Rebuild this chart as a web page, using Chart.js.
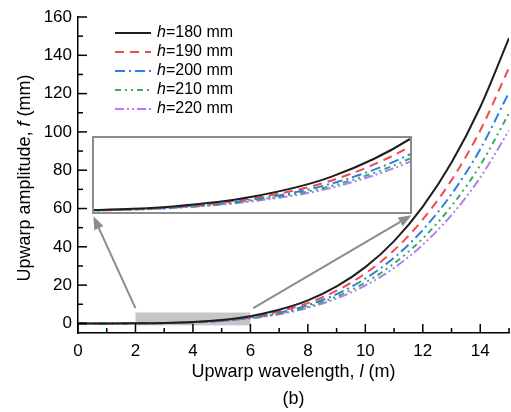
<!DOCTYPE html>
<html>
<head>
<meta charset="utf-8">
<script src="https://cdn.jsdelivr.net/npm/chart.js@4.4.1/dist/chart.umd.min.js"></script>
<style>
    body { margin: 0; background: #fff; }
    #wrap { position: relative; width: 511px; height: 412px; }
    #main { position: absolute; left: 0; top: 0; }
    #insetBox { position: absolute; box-sizing: border-box; border: 2px solid #8c8c8c; background: #fff; }
    #inset { display: block; }
</style>
</head>
<body>
<div id="wrap">
    <canvas id="main" width="511" height="412"></canvas>
    <div id="insetBox"><canvas id="inset"></canvas></div>
</div>
<script>
// ---- dades llegides de la figura ----
const xs = [0, 1, 2, 3, 4, 5, 6, 7, 8, 9, 10, 11, 12, 13, 14, 15];
const hValues = [180, 190, 200, 210, 220];

const f180 = [0, 0.003, 0.05, 0.24, 0.75, 1.8, 3.8, 7.1, 12.0, 19.3, 29.4, 43.0, 61.0, 84.0, 113.0, 149.0];
const f190 = [0, 0.003, 0.045, 0.21, 0.67, 1.6, 3.4, 6.3, 10.6, 17.1, 26.1, 38.2, 54.3, 74.8, 100.8, 133.5];
const f200 = [0, 0.002, 0.04, 0.19, 0.6, 1.44, 3.0, 5.6, 9.5, 15.3, 23.4, 34.3, 48.8, 67.5, 91.0, 120.6];
const f210 = [0, 0.002, 0.035, 0.17, 0.55, 1.32, 2.77, 5.1, 8.7, 14.0, 21.4, 31.3, 44.4, 61.3, 82.6, 109.7];
const f220 = [0, 0.002, 0.03, 0.16, 0.51, 1.22, 2.6, 4.75, 8.1, 13.0, 19.8, 29.0, 41.1, 56.6, 76.2, 100.8];

const xTicks = [0, 2, 4, 6, 8, 10, 12, 14];
const yTicks = [0, 20, 40, 60, 80, 100, 120, 140, 160];

// ---- estils ----
const FONT = '"Liberation Sans", Arial, sans-serif';
const lineStyles = [
    { color: '#1e1e1e', dash: [] },
    { color: '#f04a4a', dash: [9, 6] },
    { color: '#2b7fe0', dash: [10, 4, 2, 4] },
    { color: '#3aaa5c', dash: [6, 4, 2, 4, 2, 4] },
    { color: '#b37ff0', dash: [9, 3, 2, 3, 2, 3] }
];

// zona ampliada (rectangle gris) i posició del requadre, en unitats de dades
const zoomRegion = { xMin: 2, xMax: 6, yMin: -1, yMax: 5.7 };
const insetPlace = { xMin: 0.5, xMax: 11.64, yMin: 57, yMax: 97.7 };
const insetRange = { yMin: -0.05, yMax: 3.85 };

function buildDatasets() {
    return [f180, f190, f200, f210, f220].map((vals, i) => ({
        label: 'h=' + hValues[i] + ' mm',
        data: xs.map((x, j) => ({ x: x, y: vals[j] })),
        borderColor: lineStyles[i].color,
        borderDash: lineStyles[i].dash,
        borderWidth: 2,
        pointRadius: 0,
        cubicInterpolationMode: 'monotone',
        fill: false
    }));
}

/**
 * Escriu un text amb trossos de diferent estil (cursiva per a les variables)
 */
function drawParts(ctx, parts, x, y, align) {
    let total = 0;
    parts.forEach(p => { ctx.font = p.font; total += ctx.measureText(p.text).width; });
    let cx = align === 'center' ? x - total / 2 : x;
    ctx.textAlign = 'left';
    parts.forEach(p => {
        ctx.font = p.font;
        ctx.fillText(p.text, cx, y);
        cx += ctx.measureText(p.text).width;
    });
}

function drawArrow(ctx, x0, y0, x1, y1) {
    const ang = Math.atan2(y1 - y0, x1 - x0);
    const head = 13, half = 5;
    const bx = x1 - head * Math.cos(ang), by = y1 - head * Math.sin(ang);
    ctx.beginPath();
    ctx.moveTo(x0, y0);
    ctx.lineTo(bx, by);
    ctx.stroke();
    ctx.beginPath();
    ctx.moveTo(x1, y1);
    ctx.lineTo(bx + half * Math.sin(ang), by - half * Math.cos(ang));
    ctx.lineTo(bx - half * Math.sin(ang), by + half * Math.cos(ang));
    ctx.closePath();
    ctx.fill();
}

const decor = {
    id: 'decor',
    beforeDatasetsDraw(chart) {
        const { ctx, scales: { x, y } } = chart;
        ctx.save();
        ctx.fillStyle = '#c6c6c6';
        const l = x.getPixelForValue(zoomRegion.xMin), r = x.getPixelForValue(zoomRegion.xMax);
        const t = y.getPixelForValue(zoomRegion.yMax), b = y.getPixelForValue(zoomRegion.yMin);
        ctx.fillRect(l, t, r - l, b - t);
        ctx.restore();
    },
    afterDatasetsDraw(chart) {
        const { ctx, chartArea, scales: { x, y } } = chart;
        ctx.save();
        // fletxes cap al requadre
        ctx.strokeStyle = '#8c8c8c';
        ctx.fillStyle = '#8c8c8c';
        ctx.lineWidth = 2;
        drawArrow(ctx, x.getPixelForValue(zoomRegion.xMin), y.getPixelForValue(8),
            x.getPixelForValue(insetPlace.xMin) + 1, y.getPixelForValue(insetPlace.yMin) + 2);
        drawArrow(ctx, x.getPixelForValue(6.1), y.getPixelForValue(8),
            x.getPixelForValue(insetPlace.xMax) - 1, y.getPixelForValue(insetPlace.yMin) + 1);

        // marques dels eixos cap endins
        ctx.strokeStyle = '#000';
        ctx.lineWidth = 1.5;
        for (let v = 0; v <= y.max; v += 10) {
            const py = y.getPixelForValue(v);
            const len = v % 20 === 0 ? 9 : 5;
            ctx.beginPath();
            ctx.moveTo(chartArea.left, py);
            ctx.lineTo(chartArea.left + len, py);
            ctx.stroke();
        }
        for (let v = x.min; v <= x.max; v += 1) {
            const px = x.getPixelForValue(v);
            const len = v % 2 === 0 ? 9 : 5;
            ctx.beginPath();
            ctx.moveTo(px, chartArea.bottom);
            ctx.lineTo(px, chartArea.bottom - len);
            ctx.stroke();
        }
        ctx.restore();
    },
    afterDraw(chart) {
        const { ctx, chartArea } = chart;
        ctx.save();
        ctx.fillStyle = '#000';
        ctx.textBaseline = 'middle';

        // llegenda
        chart.data.datasets.forEach((ds, i) => {
            const ly = 33 + i * 19;
            ctx.strokeStyle = ds.borderColor;
            ctx.lineWidth = 2;
            ctx.setLineDash(ds.borderDash);
            ctx.beginPath();
            ctx.moveTo(115, ly);
            ctx.lineTo(151, ly);
            ctx.stroke();
            ctx.setLineDash([]);
            drawParts(ctx, [
                { text: 'h', font: 'italic 16px ' + FONT },
                { text: '=' + hValues[i] + ' mm', font: '16px ' + FONT }
            ], 157, ly, 'left');
        });

        // títols dels eixos
        const cx = (chartArea.left + chartArea.right) / 2;
        drawParts(ctx, [
            { text: 'Upwarp wavelength, ', font: '18px ' + FONT },
            { text: 'l', font: 'italic 18px ' + FONT },
            { text: ' (m)', font: '18px ' + FONT }
        ], cx, 372, 'center');
        drawParts(ctx, [{ text: '(b)', font: '18px ' + FONT }], cx, 399, 'center');

        ctx.translate(25, 178);
        ctx.rotate(-Math.PI / 2);
        drawParts(ctx, [
            { text: 'Upwarp amplitude, ', font: '18px ' + FONT },
            { text: 'f', font: 'italic 18px ' + FONT },
            { text: ' (mm)', font: '18px ' + FONT }
        ], 0, 0, 'center');
        ctx.restore();
    }
};

const mainChart = new Chart(document.getElementById('main'), {
    type: 'line',
    data: { datasets: buildDatasets() },
    plugins: [decor],
    options: {
        responsive: false,
        animation: false,
        layout: { padding: { top: 17, right: 2, left: 0, bottom: 0 } },
        plugins: { legend: { display: false }, tooltip: { enabled: false } },
        scales: {
            x: {
                type: 'linear',
                min: 0,
                max: 15,
                afterBuildTicks: s => { s.ticks = xTicks.map(v => ({ value: v })); },
                afterFit: s => { s.height = 79; },
                grid: { display: false, drawTicks: false },
                border: { display: true, color: '#000', width: 1.5 },
                ticks: { padding: 8, color: '#000', font: { family: FONT, size: 17 }, maxRotation: 0 }
            },
            y: {
                min: -5,
                max: 160,
                afterBuildTicks: s => { s.ticks = yTicks.map(v => ({ value: v })); },
                afterFit: s => { s.width = 78; },
                grid: { display: false, drawTicks: false },
                border: { display: true, color: '#000', width: 1.5 },
                ticks: { padding: 6, color: '#000', font: { family: FONT, size: 17 } }
            }
        }
    }
});

// ---- requadre ampliat: segona gràfica a sobre ----
const sx = mainChart.scales.x, sy = mainChart.scales.y;
const boxL = sx.getPixelForValue(insetPlace.xMin), boxR = sx.getPixelForValue(insetPlace.xMax);
const boxT = sy.getPixelForValue(insetPlace.yMax), boxB = sy.getPixelForValue(insetPlace.yMin);
const box = document.getElementById('insetBox');
box.style.left = boxL + 'px';
box.style.top = boxT + 'px';
box.style.width = (boxR - boxL) + 'px';
box.style.height = (boxB - boxT) + 'px';
const insetCanvas = document.getElementById('inset');
insetCanvas.width = Math.round(boxR - boxL - 4);
insetCanvas.height = Math.round(boxB - boxT - 4);

new Chart(insetCanvas, {
    type: 'line',
    data: { datasets: buildDatasets() },
    options: {
        responsive: false,
        animation: false,
        layout: { padding: 0 },
        plugins: { legend: { display: false }, tooltip: { enabled: false } },
        scales: {
            x: { type: 'linear', min: zoomRegion.xMin, max: zoomRegion.xMax, display: false },
            y: { min: insetRange.yMin, max: insetRange.yMax, display: false }
        }
    }
});
</script>
</body>
</html>
